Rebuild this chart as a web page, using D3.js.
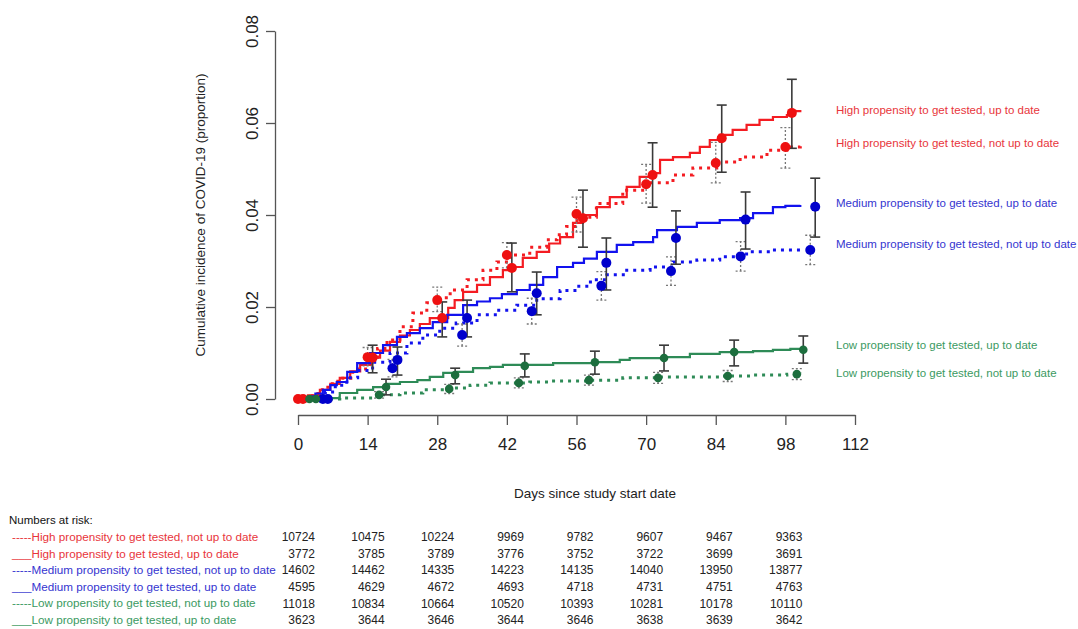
<!DOCTYPE html>
<html lang="en">
<head>
<meta charset="utf-8">
<title>Cumulative incidence of COVID-19</title>
<script src="https://cdn.jsdelivr.net/npm/d3@7"></script>
<style>
  body { margin: 0; background: #fff; }
  svg text { font-family: "Liberation Sans", Arial, sans-serif; }
</style>
</head>
<body>
<svg id="chart" width="1078" height="629"></svg>
<script>
// ---- data ----
var xTicks = [0, 14, 28, 42, 56, 70, 84, 98, 112];
var yTicks = [0, 0.02, 0.04, 0.06, 0.08];
var riskDays = [0, 14, 28, 42, 56, 70, 84, 98];

// step curves: [day, cumulative incidence]
var highUpCurve = [[0,0],[2,0.0008],[4.4,0.002],[6.5,0.0033],[8.4,0.0046],[10.5,0.006],[12.5,0.0074],[14.9,0.009],[16.5,0.0105],[18.5,0.0124],[20.5,0.0138],[22.5,0.015],[24.5,0.0163],[26.5,0.0176],[30.2,0.0198],[31.5,0.0215],[33.2,0.0233],[36,0.0248],[38.6,0.0265],[41.2,0.028],[43.2,0.0287],[45.2,0.0307],[48,0.032],[50.5,0.0338],[52.7,0.0352],[55.3,0.0383],[57.3,0.04],[60.1,0.0417],[62.7,0.0439],[66.1,0.0461],[68.7,0.0483],[71.4,0.0491],[72.8,0.052],[75.4,0.0526],[78.8,0.0535],[80.8,0.0548],[82.8,0.0563],[84.8,0.0574],[87.4,0.0585],[90.2,0.0596],[92.8,0.0607],[95.5,0.0613],[98.3,0.0617],[99.5,0.0626],[101,0.0628]];
var highNotCurve = [[0,0],[2,0.0007],[4,0.002],[6,0.0033],[8,0.0045],[11,0.0065],[13.9,0.0091],[16,0.011],[17.9,0.0128],[20.5,0.0157],[23.1,0.0187],[25.9,0.0209],[27.9,0.022],[30.6,0.0237],[34,0.0259],[37.2,0.028],[40,0.0298],[42.6,0.0313],[46.6,0.033],[50,0.0346],[52.1,0.0357],[54,0.0375],[56.1,0.0395],[60,0.0425],[65.3,0.0454],[70.2,0.047],[75.4,0.0487],[79.4,0.0502],[84.2,0.0515],[88.9,0.0526],[94.3,0.0541],[98.3,0.0548],[101,0.0557]];
var medUpCurve = [[0,0],[1.8,0.0002],[3.5,0.0012],[5,0.002],[6.5,0.003],[7.8,0.0037],[9.9,0.0059],[11.9,0.0078],[14.5,0.01],[17.1,0.0117],[19.9,0.0135],[21.9,0.0143],[24.5,0.0154],[27.1,0.0167],[30,0.0183],[33.2,0.0204],[36,0.0212],[38.6,0.0219],[41,0.0228],[44,0.0237],[46.6,0.0248],[49.3,0.0265],[52.1,0.0287],[55.3,0.0296],[57.5,0.0305],[60.1,0.032],[64.1,0.0335],[67.4,0.0341],[71.4,0.0352],[72.2,0.0367],[76.2,0.0374],[80.2,0.0383],[84.8,0.0389],[88.9,0.0393],[91.5,0.0404],[95.5,0.0417],[98,0.042],[101,0.0422]];
var medNotCurve = [[0,0],[3,0.0005],[5.5,0.0015],[7.5,0.003],[9.8,0.0046],[12,0.0062],[15,0.008],[18.5,0.01],[21.9,0.0122],[25.1,0.0139],[28.5,0.0154],[31.8,0.0165],[36,0.0183],[40,0.0193],[44,0.0204],[48,0.0218],[52.7,0.0236],[56,0.0245],[58.8,0.0259],[62.1,0.027],[66.1,0.028],[70.8,0.0287],[75.4,0.0298],[80.2,0.0302],[84.8,0.0309],[90.2,0.032],[95.5,0.0324],[101,0.0328]];
var lowUpCurve = [[0,0],[5,0.0002],[8.4,0.0013],[11.9,0.002],[15.1,0.0026],[18,0.0033],[20.5,0.0037],[24,0.0041],[26.5,0.0048],[29.2,0.0057],[32,0.0059],[35.2,0.0067],[38.6,0.007],[41.2,0.0074],[51.3,0.0078],[59.3,0.008],[64.7,0.0085],[66.7,0.0089],[73.4,0.0091],[78.8,0.0098],[84.8,0.0102],[91.5,0.0104],[95.5,0.0107],[99,0.0109],[101,0.0109]];
var lowNotCurve = [[0,0],[8.4,0.0002],[15.9,0.0009],[20.5,0.0013],[25.1,0.002],[29.9,0.0024],[34.6,0.003],[38.6,0.0035],[46.6,0.0037],[50.7,0.0039],[58,0.0041],[65.3,0.0046],[72,0.0048],[84.8,0.005],[91.5,0.0052],[98.3,0.0054],[101,0.0057]];

// point estimates with 95% CI: [day, value, lower, upper]
var highUpPts = [[1,0,0,0],[15,0.009,0.0057,0.0117],[29,0.0176,0.0135,0.0211],[43,0.0285,0.0233,0.0339],[57.3,0.0393,0.033,0.0454],[71.3,0.0487,0.0417,0.0557],[85.2,0.0567,0.0493,0.0639],[99.3,0.0622,0.0545,0.0695]];
var highNotPts = [[0,0,0,0],[14,0.0091,0.0072,0.0112],[28,0.0215,0.019,0.0243],[42,0.0313,0.0285,0.034],[56,0.0402,0.0363,0.0439],[70,0.0467,0.0426,0.051],[84,0.0513,0.047,0.0558],[98,0.0548,0.0502,0.059]];
var medUpPts = [[6,0,0,0],[20,0.0085,0.0052,0.0113],[34,0.0176,0.0135,0.0215],[48,0.023,0.0183,0.0276],[62,0.0296,0.0237,0.035],[76,0.035,0.0293,0.0409],[90,0.039,0.0326,0.045],[104,0.0418,0.0352,0.048]];
var medNotPts = [[5,0,0,0],[19,0.0067,0.0048,0.0086],[33,0.0139,0.0115,0.0163],[47,0.0191,0.0163,0.0219],[61,0.0246,0.0215,0.0277],[75,0.0278,0.0247,0.0309],[89,0.031,0.0278,0.0342],[103,0.0324,0.0292,0.0356]];
var lowUpPts = [[3.6,0,0,0],[17.7,0.0026,0.0009,0.0043],[31.6,0.0052,0.0033,0.0067],[45.6,0.0072,0.0048,0.0098],[59.7,0.008,0.0054,0.0104],[73.6,0.0089,0.0061,0.0117],[87.7,0.0102,0.0072,0.0128],[101.6,0.0107,0.0078,0.0137]];
var lowNotPts = [[2.3,0,0,0],[16.3,0.0009,0.0002,0.0016],[30.4,0.0022,0.0012,0.0032],[44.4,0.0035,0.0024,0.0046],[58.5,0.0041,0.003,0.0052],[72.4,0.0046,0.0034,0.0058],[86.4,0.005,0.0038,0.0062],[100.3,0.0054,0.0042,0.0066]];

// numbers at risk
var riskHighNot = [10724, 10475, 10224, 9969, 9782, 9607, 9467, 9363];
var riskHighUp  = [3772, 3785, 3789, 3776, 3752, 3722, 3699, 3691];
var riskMedNot  = [14602, 14462, 14335, 14223, 14135, 14040, 13950, 13877];
var riskMedUp   = [4595, 4629, 4672, 4693, 4718, 4731, 4751, 4763];
var riskLowNot  = [11018, 10834, 10664, 10520, 10393, 10281, 10178, 10110];
var riskLowUp   = [3623, 3644, 3646, 3644, 3646, 3638, 3639, 3642];

var RED = "#f41c22", BLUE = "#1212ee", GREEN = "#2e8b57";

var series = [
  {name: "High propensity to get tested, not up to date", curve: highNotCurve, pts: highNotPts, risk: riskHighNot, color: RED, mark: "#ee1111", dotted: true, labelY: 143, txt: "#e8353b"},
  {name: "High propensity to get tested, up to date", curve: highUpCurve, pts: highUpPts, risk: riskHighUp, color: RED, mark: "#ee1111", dotted: false, labelY: 110, txt: "#e8353b"},
  {name: "Medium propensity to get tested, not up to date", curve: medNotCurve, pts: medNotPts, risk: riskMedNot, color: BLUE, mark: "#0000cc", dotted: true, labelY: 244, txt: "#3535d0"},
  {name: "Medium propensity to get tested, up to date", curve: medUpCurve, pts: medUpPts, risk: riskMedUp, color: BLUE, mark: "#0000cc", dotted: false, labelY: 203, txt: "#3535d0"},
  {name: "Low propensity to get tested, not up to date", curve: lowNotCurve, pts: lowNotPts, risk: riskLowNot, color: GREEN, mark: "#1d6e3e", dotted: true, labelY: 373, txt: "#3b9a62"},
  {name: "Low propensity to get tested, up to date", curve: lowUpCurve, pts: lowUpPts, risk: riskLowUp, color: GREEN, mark: "#1d6e3e", dotted: false, labelY: 345, txt: "#3b9a62"}
];

var svg = d3.select("#chart");
svg.append("rect").attr("width", 1078).attr("height", 629).attr("fill", "#fff");

var x = d3.scaleLinear().domain([0, 112]).range([298, 855]);
var y = d3.scaleLinear().domain([0, 0.08]).range([399, 31]);

// axes, R style (line only across tick range)
var xAxis = svg.append("g").attr("transform", "translate(0,415)")
  .call(d3.axisBottom(x).tickValues(xTicks).tickSize(10).tickSizeOuter(0).tickFormat(d3.format("d")));
xAxis.select(".domain").attr("stroke", "#555").attr("stroke-width", 1.3);
xAxis.selectAll(".tick line").attr("stroke", "#555").attr("stroke-width", 1.3);
xAxis.selectAll(".tick text").attr("font-size", 17).attr("fill", "#222").attr("dy", 0).attr("y", 35)
  .attr("font-family", "Liberation Sans, Arial, sans-serif");

var yAxis = svg.append("g").attr("transform", "translate(275,0)")
  .call(d3.axisLeft(y).tickValues(yTicks).tickSize(9).tickSizeOuter(0).tickFormat(d3.format(".2f")));
yAxis.select(".domain").attr("stroke", "#555").attr("stroke-width", 1.3);
yAxis.selectAll(".tick line").attr("stroke", "#555").attr("stroke-width", 1.3);
yAxis.selectAll(".tick text").attr("font-size", 17).attr("fill", "#222")
  .attr("text-anchor", "middle").attr("x", 0).attr("dy", 0)
  .attr("transform", "translate(-17,0) rotate(-90)")
  .attr("font-family", "Liberation Sans, Arial, sans-serif");

svg.append("text").attr("transform", "translate(205,215) rotate(-90)")
  .attr("text-anchor", "middle").attr("font-size", 13.5).attr("fill", "#222")
  .text("Cumulative incidence of COVID-19 (proportion)");
svg.append("text").attr("x", 595).attr("y", 498).attr("text-anchor", "middle")
  .attr("font-size", 13.5).attr("fill", "#222").text("Days since study start date");

// curves
var line = d3.line().x(function (d) { return x(d[0]); }).y(function (d) { return y(d[1]); })
  .curve(d3.curveStepAfter);

series.forEach(function (s) {
  svg.append("path").datum(s.curve).attr("d", line)
    .attr("fill", "none").attr("stroke", s.color)
    .attr("stroke-width", s.dotted ? 3 : 2.2)
    .attr("stroke-dasharray", s.dotted ? "3,5" : null);
});

// error bars
series.forEach(function (s) {
  var g = svg.append("g");
  var bars = s.pts.filter(function (d) { return d[3] > d[2]; });
  var col = s.dotted ? "#777" : "#3a3a3a";
  var dash = s.dotted ? "2,2" : null;
  var sw = s.dotted ? 1.3 : 1.6;
  g.selectAll("line.v").data(bars).enter().append("line")
    .attr("x1", function (d) { return x(d[0]); }).attr("x2", function (d) { return x(d[0]); })
    .attr("y1", function (d) { return y(d[2]); }).attr("y2", function (d) { return y(d[3]); })
    .attr("stroke", col).attr("stroke-width", sw).attr("stroke-dasharray", dash);
  [2, 3].forEach(function (k) {
    g.selectAll("line.c" + k).data(bars).enter().append("line")
      .attr("x1", function (d) { return x(d[0]) - 5; }).attr("x2", function (d) { return x(d[0]) + 5; })
      .attr("y1", function (d) { return y(d[k]); }).attr("y2", function (d) { return y(d[k]); })
      .attr("stroke", col).attr("stroke-width", sw).attr("stroke-dasharray", dash);
  });
});

// point markers
series.forEach(function (s) {
  svg.append("g").selectAll("circle").data(s.pts).enter().append("circle")
    .attr("cx", function (d) { return x(d[0]); })
    .attr("cy", function (d) { return y(d[1]); })
    .attr("r", s.color === GREEN ? 4.3 : 5)
    .attr("fill", s.mark);
});

// end labels
series.forEach(function (s) {
  svg.append("text").attr("x", 836).attr("y", s.labelY).attr("dy", "0.35em")
    .attr("font-size", 11.5).attr("fill", s.txt).text(s.name);
});

// numbers at risk table
svg.append("text").attr("x", 9).attr("y", 520).attr("dy", "0.35em")
  .attr("font-size", 11.5).attr("fill", "#111").text("Numbers at risk:");

series.forEach(function (s, i) {
  var ry = 537 + i * 16.6;
  svg.append("text").attr("x", 12).attr("y", ry).attr("dy", "0.35em")
    .attr("font-size", 11.7).attr("fill", s.txt)
    .text((s.dotted ? "-----" : "___") + s.name);
  svg.append("g").selectAll("text").data(s.risk).enter().append("text")
    .attr("x", function (d, j) { return x(riskDays[j]) + 17; })
    .attr("y", ry).attr("dy", "0.35em").attr("text-anchor", "end")
    .attr("font-size", 12).attr("fill", "#222")
    .text(function (d) { return d; });
});
</script>
</body>
</html>
